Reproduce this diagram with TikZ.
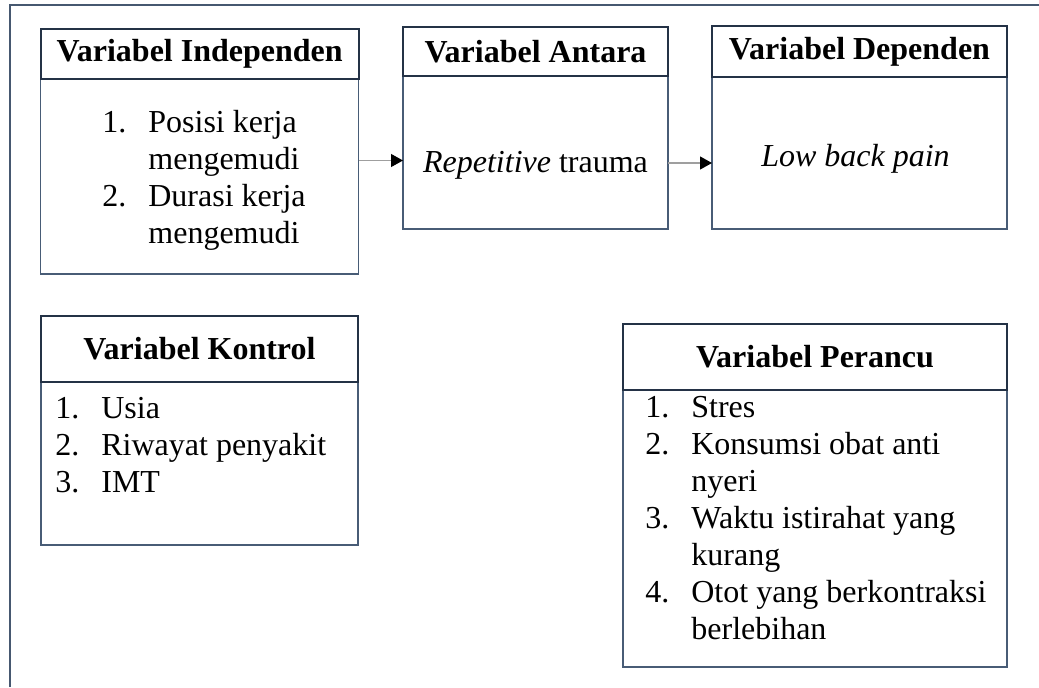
\documentclass[tikz,border=0pt]{standalone}
\usepackage{fontspec}
\setmainfont{Liberation Serif}
\usetikzlibrary{arrows.meta,positioning}
\definecolor{frameblue}{RGB}{70,88,112}
\definecolor{hdrblue}{RGB}{36,50,70}
\definecolor{boxblue}{RGB}{72,92,118}
\tikzset{
  frm/.style={draw=frameblue, line width=0.8pt},
  bdy/.style={draw=boxblue, line width=0.7pt, inner sep=0pt, outer sep=0pt, anchor=north west},
  hdr/.style={draw=hdrblue, line width=0.9pt, inner sep=0pt, outer sep=0pt,
              font=\fontsize{16}{18.5}\selectfont\bfseries},
  lst/.style={inner sep=0pt, anchor=north west, align=left, font=\fontsize{16}{18.5}\selectfont},
  txt/.style={inner sep=0pt, anchor=base, font=\fontsize{16}{18.5}\selectfont},
  flowarr/.style={-{Triangle[length=6pt,width=6.5pt,black]}, draw=gray!75, line width=0.6pt},
}
\newcommand{\itm}[2]{\makebox[23pt][l]{#1.}#2}
\newcommand{\cnt}[1]{\hspace*{23pt}#1}

\begin{document}
\begin{tikzpicture}[x=1pt, y=1pt]
  \useasboundingbox (0,0) rectangle (519.5,343.5);
  % outer frame
  \draw[frm] (5,0) -- (5,341) -- (519.5,341);

  % top row
  \node[bdy, minimum width=159pt, minimum height=97.5pt] (indep) at (20.35,304) {};
  \node[hdr, minimum width=159pt, minimum height=25pt, above=0pt of indep] (indephd) {Variabel Independen};
  \node[lst] (indeplst) at (51,290.45) {\strut\itm{1}{Posisi kerja}\\
    \cnt{mengemudi}\\
    \itm{2}{Durasi kerja}\\
    \cnt{mengemudi}};

  \node[bdy, minimum width=132.5pt, minimum height=76.5pt] (antara) at (201.5,305.5) {};
  \node[hdr, minimum width=132.5pt, minimum height=24.5pt, above=0pt of antara] (antarahd) {Variabel Antara};
  \node[txt] (antaratxt) at ([yshift=-9.75pt]antara.center) {\textit{Repetitive} trauma};

  \node[bdy, minimum width=147.5pt, minimum height=76pt] (dep) at (356,305) {};
  \node[hdr, minimum width=147.5pt, minimum height=25.5pt, above=0pt of dep] (dephd) {Variabel Dependen};
  \node[txt] (deptxt) at ([xshift=-2pt, yshift=-7pt]dep.center) {\textit{Low back pain}};

  % arrows
  \coordinate (a1) at ([yshift=-4pt]antara.west);
  \coordinate (a2) at ([yshift=-5pt]dep.west);
  \draw[flowarr] (a1 -| indep.east) -- (a1);
  \draw[flowarr] (a2 -| antara.east) -- (a2);

  % bottom row
  \node[bdy, minimum width=158.5pt, minimum height=81.5pt] (kontrol) at (20.5,152.5) {};
  \node[hdr, minimum width=158.5pt, minimum height=33pt, above=0pt of kontrol] (kontrolhd) {Variabel Kontrol};
  \node[lst] (kontrollst) at (27.5,147.45) {\strut\itm{1}{Usia}\\
    \itm{2}{Riwayat penyakit}\\
    \itm{3}{IMT}};

  \node[bdy, minimum width=192pt, minimum height=138.5pt] (perancu) at (311.5,148.5) {};
  \node[hdr, minimum width=192pt, minimum height=33pt, above=0pt of perancu] (perancuhd) {Variabel Perancu};
  \node[lst] (peranculst) at (322.5,147.95) {\strut\itm{1}{Stres}\\
    \itm{2}{Konsumsi obat anti}\\
    \cnt{nyeri}\\
    \itm{3}{Waktu istirahat yang}\\
    \cnt{kurang}\\
    \itm{4}{Otot yang berkontraksi}\\
    \cnt{berlebihan}};
\end{tikzpicture}
\end{document}
